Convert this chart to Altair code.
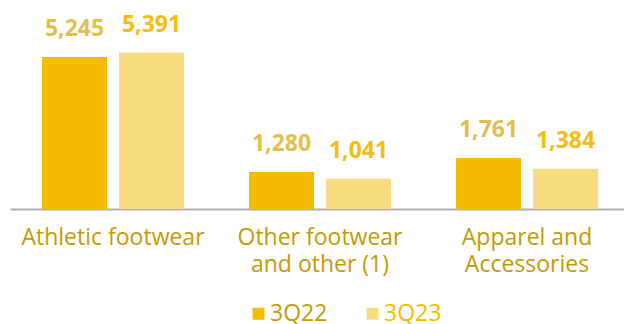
import altair as alt
import pandas as pd

categories = ["Athletic footwear", "Other footwear|and other (1)", "Apparel and|Accessories"]
periods = ["3Q22", "3Q23"]
values_3q22 = [5245, 1280, 1761]
values_3q23 = [5391, 1041, 1384]

rows = []
for c, a, b in zip(categories, values_3q22, values_3q23):
    rows.append({"category": c, "period": periods[0], "value": a})
    rows.append({"category": c, "period": periods[1], "value": b})
df = pd.DataFrame(rows)

FONT = "Open Sans"
DARK_GOLD = "#C49A08"

base = alt.Chart(df).encode(
    x=alt.X(
        "category:N",
        sort=categories,
        scale=alt.Scale(paddingInner=0.314, paddingOuter=0.14, align=0.552),
        axis=alt.Axis(
            title=None,
            labelExpr="split(datum.label, '|')",
            labelAngle=0,
            domainColor="#B0B0B0",
            domainWidth=2,
            ticks=False,
            labelFont=FONT,
            labelFontSize=23,
            labelColor=DARK_GOLD,
            labelPadding=17,
            labelLineHeight=27,
            labelBaseline="top",
            labelLimit=400,
            labelOverlap=False,
        ),
    ),
    xOffset=alt.XOffset("period:N", sort=periods, scale=alt.Scale(paddingInner=0.156)),
)

bars = base.mark_bar().encode(
    y=alt.Y("value:Q", scale=alt.Scale(domain=[0, 7000]), axis=None),
    color=alt.Color(
        "period:N",
        sort=periods,
        scale=alt.Scale(domain=periods, range=["#F5BB00", "#FADC80"]),
        legend=alt.Legend(
            title=None,
            orient="none",
            legendX=237,
            legendY=296,
            direction="horizontal",
            symbolType="square",
            symbolSize=144,
            symbolStrokeWidth=0,
            labelFont=FONT,
            labelFontSize=23,
            labelOffset=0,
            labelLimit=300,
            columnPadding=33,
            padding=0,
            labelColor=alt.ExprRef(expr="datum.label == '3Q22' ? '#C49A08' : '#F5BB00'"),
        ),
    ),
)

labels = base.mark_text(
    baseline="alphabetic", dy=-21, fontSize=23, fontWeight="bold", font=FONT
).encode(
    y=alt.Y("value:Q", scale=alt.Scale(domain=[0, 7000]), axis=None),
    text=alt.Text("value:Q", format=","),
    color=alt.Color(
        "period:N",
        sort=periods,
        scale=alt.Scale(domain=periods, range=["#E3BF4B", "#F5BC12"]),
        legend=None,
    ),
)

chart = (
    alt.layer(bars, labels)
    .resolve_scale(color="independent")
    .properties(
        width=614,
        height=203,
        autosize=alt.AutoSizeParams(type="none"),
        padding={"left": 10, "top": 6, "right": 0, "bottom": 115},
    )
    .configure(background="white")
    .configure_view(stroke=None)
)

chart.save("out.html", embed_options={"renderer": "svg", "actions": False})
